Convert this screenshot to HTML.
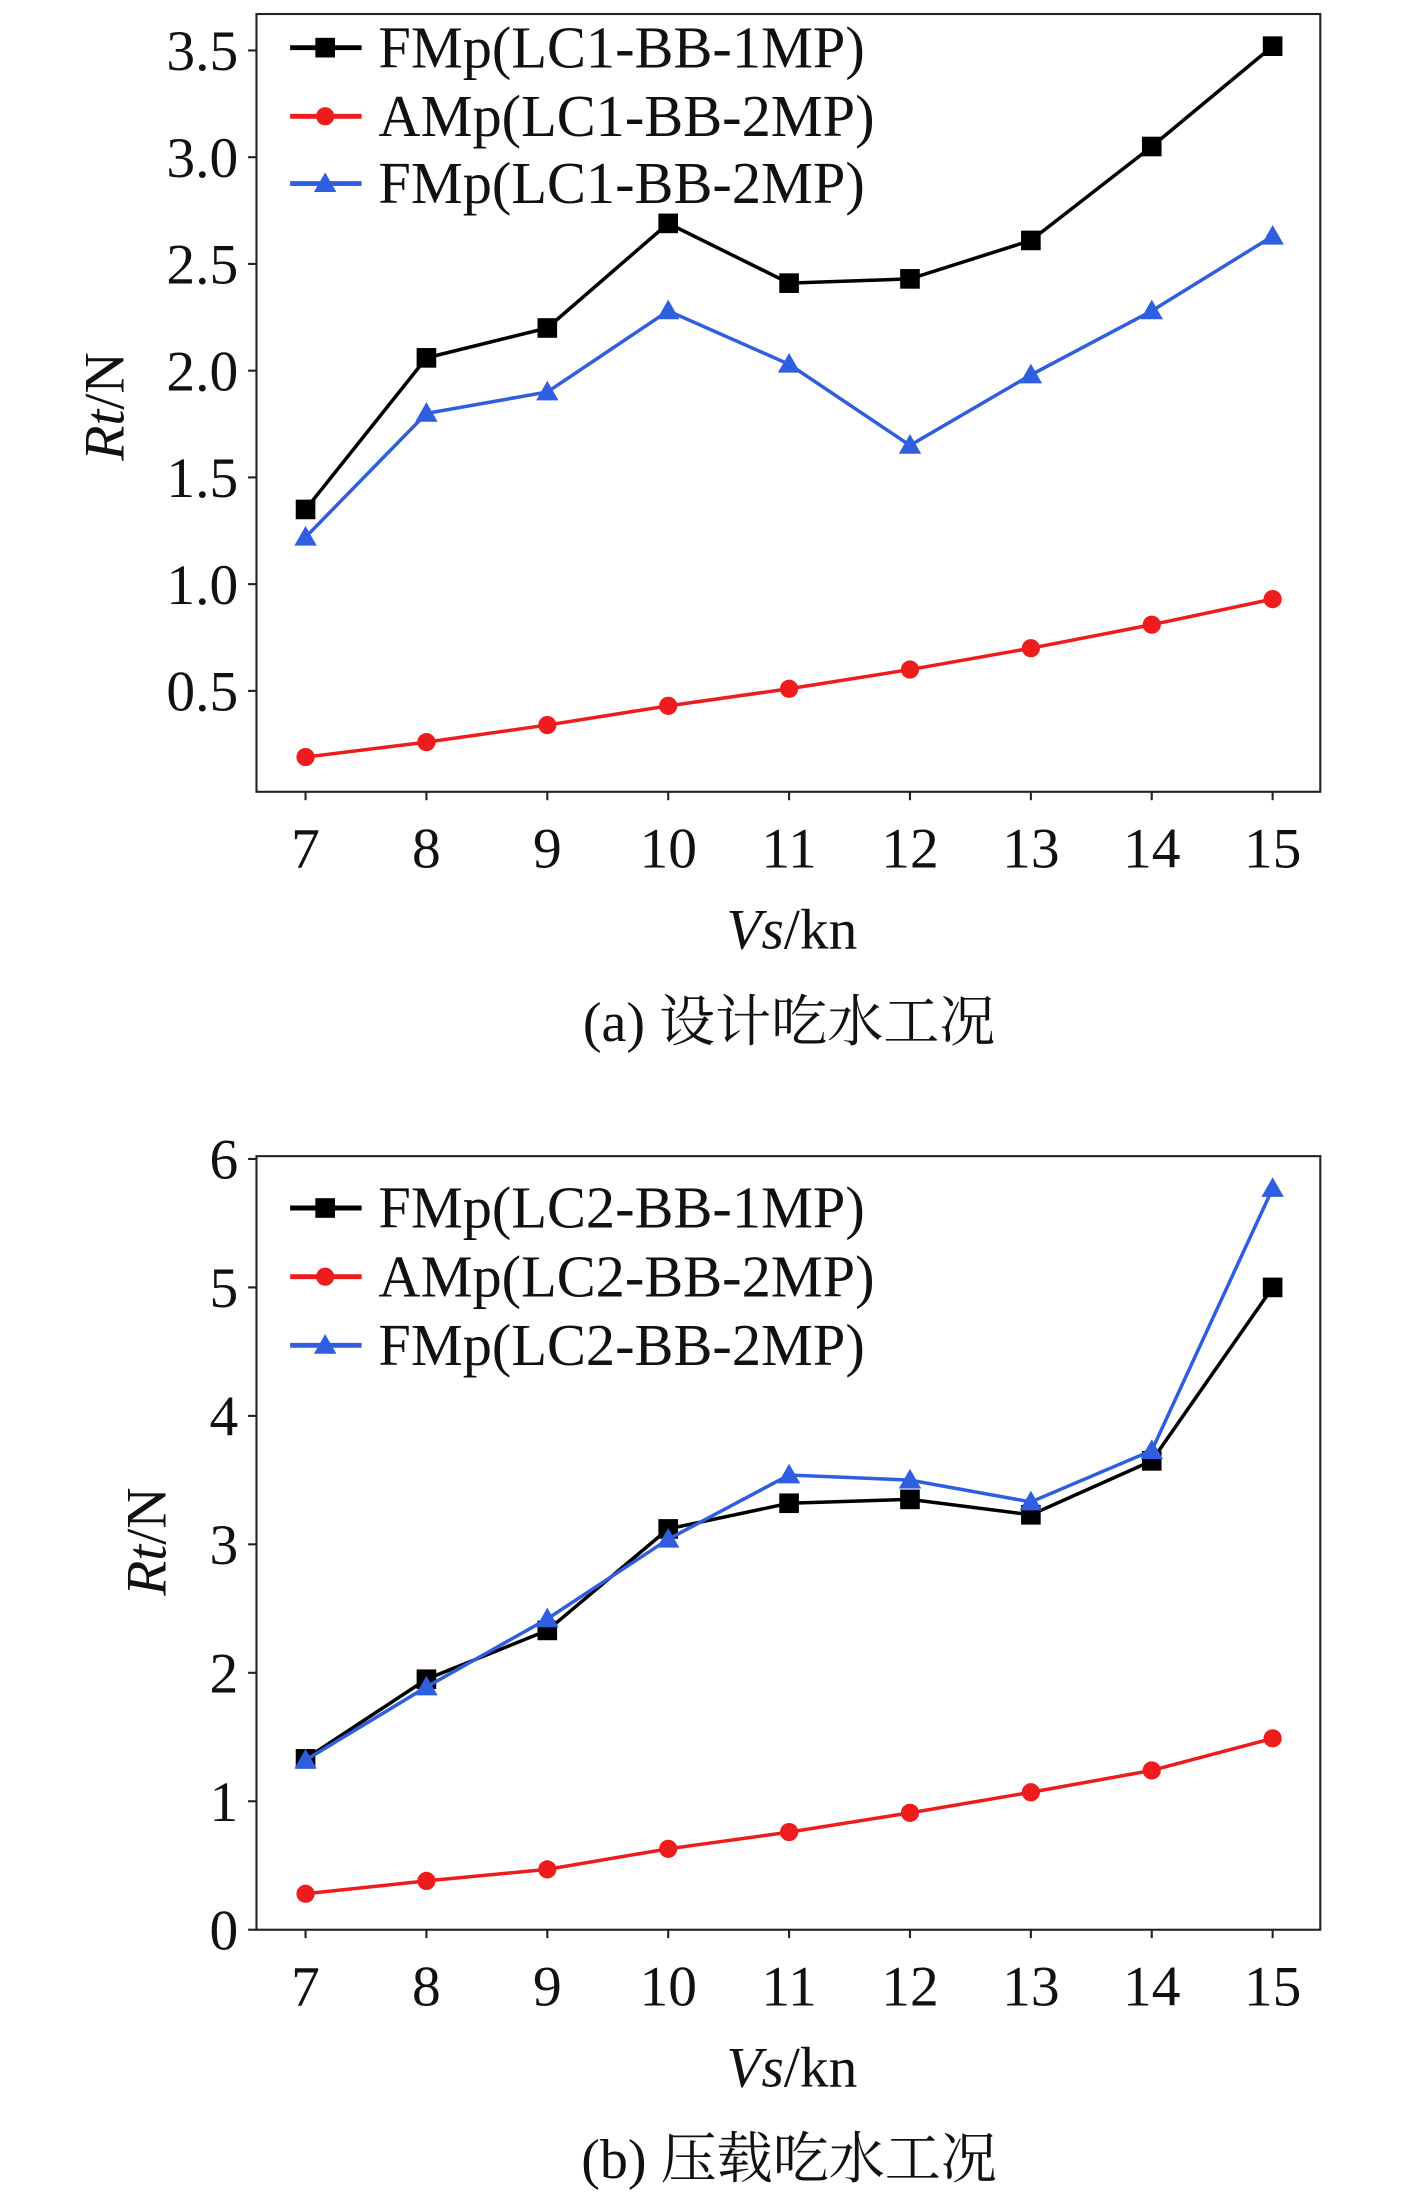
<!DOCTYPE html>
<html><head><meta charset="utf-8"><style>
html,body{margin:0;padding:0;background:#fff;}
svg{display:block;}
text{font-family:"Liberation Serif","Noto Serif CJK SC",serif;fill:#111;}
</style></head><body>
<svg id="fig" width="1417" height="2196" viewBox="0 0 1011 1567" preserveAspectRatio="none" xmlns="http://www.w3.org/2000/svg"></svg>
<script>
const categories = [7,8,9,10,11,12,13,14,15];
const aBlack = [1.35,2.06,2.20,2.69,2.41,2.43,2.61,3.05,3.52];
const aRed = [0.19,0.26,0.34,0.43,0.51,0.60,0.70,0.81,0.93];
const aBlue = [1.22,1.80,1.90,2.28,2.03,1.65,1.98,2.28,2.63];
const bBlack = [1.33,1.95,2.33,3.12,3.32,3.35,3.23,3.65,5.0];
const bRed = [0.28,0.38,0.47,0.63,0.76,0.91,1.07,1.24,1.49];
const bBlue = [1.32,1.89,2.42,3.04,3.54,3.50,3.33,3.73,5.77];
const aTicks = [0.5,1.0,1.5,2.0,2.5,3.0,3.5];
const aTickLabels = ["0.5","1.0","1.5","2.0","2.5","3.0","3.5"];
const bTicks = [0,1,2,3,4,5,6];
const bTickLabels = ["0","1","2","3","4","5","6"];
const aLegend = ["FMp(LC1-BB-1MP)","AMp(LC1-BB-2MP)","FMp(LC1-BB-2MP)"];
const bLegend = ["FMp(LC2-BB-1MP)","AMp(LC2-BB-2MP)","FMp(LC2-BB-2MP)"];

const NS="http://www.w3.org/2000/svg";
const svg=document.getElementById('fig');
function mk(tag,attrs,parent){const e=document.createElementNS(NS,tag);for(const k in attrs)e.setAttribute(k,attrs[k]);(parent||svg).appendChild(e);return e;}

function marker(g,kind,x,y,color){
  let m;
  if(kind==='sq') m=mk('rect',{x:x-7,y:y-7,width:14,height:14,fill:color},g);
  else if(kind==='ci') m=mk('circle',{cx:x,cy:y,r:6.5,fill:color},g);
  else m=mk('polygon',{points:`${x},${y-8} ${x+8},${y+6} ${x-8},${y+6}`,fill:color},g);
  return m;
}

function chart(id,top,bottom,yMin,yMax,yTop,yBot,ticks,tickLabels,series,legend,legY,ylabX,ylabY,xlabY,capY,caption){
  const L=183,R=942;
  const x=v=>218+(v-7)*(908-218)/8;
  const y=v=>yBot+(v-yMin)*(yTop-yBot)/(yMax-yMin);
  const g=mk('g',{});
  
  
  const frame=mk('rect',{x:L,y:top,width:R-L,height:bottom-top,fill:'none',stroke:'#222','stroke-width':1.5},g);
  
  ticks.forEach((t,i)=>{
    const ty=y(t);
    const tk=mk('line',{x1:L-6,x2:L,y1:ty,y2:ty,stroke:'#222','stroke-width':1.5},g);
    
    const tl=mk('text',{x:170,y:ty+14,'text-anchor':'end','font-size':41},g);
    tl.textContent=tickLabels[i];
    
  });
  categories.forEach(c=>{
    const tx=x(c);
    const tk=mk('line',{x1:tx,x2:tx,y1:bottom,y2:bottom+6,stroke:'#222','stroke-width':1.5},g);
    
    const tl=mk('text',{x:tx,y:bottom+54,'text-anchor':'middle','font-size':41},g);
    tl.textContent=String(c);
    
  });
  series.forEach((s,si)=>{
    const sg=mk('g',{},g);
    
    
    const pts=s.data.map((v,i)=>x(categories[i])+','+y(v)).join(' ');
    const pl=mk('polyline',{points:pts,fill:'none',stroke:s.color,'stroke-width':2.5},sg);
    
    s.data.forEach((v,i)=>{
      const m=marker(sg,s.kind,x(categories[i]),y(v),s.color);
      
      
    });
    const ly=legY[si];
    const lg=mk('g',{},g);
    
    
    mk('line',{x1:207,x2:258,y1:ly,y2:ly,stroke:s.color,'stroke-width':3.5},lg);
    marker(lg,s.kind,232,ly,s.color);
    const lt=mk('text',{x:270,y:ly+14,'font-size':42,textLength:legend[si].startsWith('A')?354:347,lengthAdjust:'spacingAndGlyphs'},lg);
    lt.textContent=legend[si];
  });
  const yl=mk('text',{x:ylabX,y:ylabY,'text-anchor':'middle','font-size':41,transform:`rotate(-90 ${ylabX} ${ylabY})`},g);
  yl.innerHTML='<tspan font-style="italic">Rt</tspan>/N';
  
  const xl=mk('text',{x:565,y:xlabY,'text-anchor':'middle','font-size':41},g);
  xl.innerHTML='<tspan font-style="italic">Vs</tspan>/kn';
  
  const cp=mk('text',{x:563,y:capY,'text-anchor':'middle','font-size':40},g);
  cp.textContent=caption;
  
}

chart('chart-a',10,565,0.5,3.5,36,493,aTicks,aTickLabels,
  [{name:'fmp-1mp',data:aBlack,color:'#000',kind:'sq'},
   {name:'amp-2mp',data:aRed,color:'#ee1c1c',kind:'ci'},
   {name:'fmp-2mp',data:aBlue,color:'#2f5fe0',kind:'tr'}],
  aLegend,[34,83,131],88,290,677,743,'(a) 设计吃水工况');
chart('chart-b',825,1377,0,6,827,1377,bTicks,bTickLabels,
  [{name:'fmp-1mp',data:bBlack,color:'#000',kind:'sq'},
   {name:'amp-2mp',data:bRed,color:'#ee1c1c',kind:'ci'},
   {name:'fmp-2mp',data:bBlue,color:'#2f5fe0',kind:'tr'}],
  bLegend,[862,911,960],118,1100,1489,1554,'(b) 压载吃水工况');
</script>
</body></html>
